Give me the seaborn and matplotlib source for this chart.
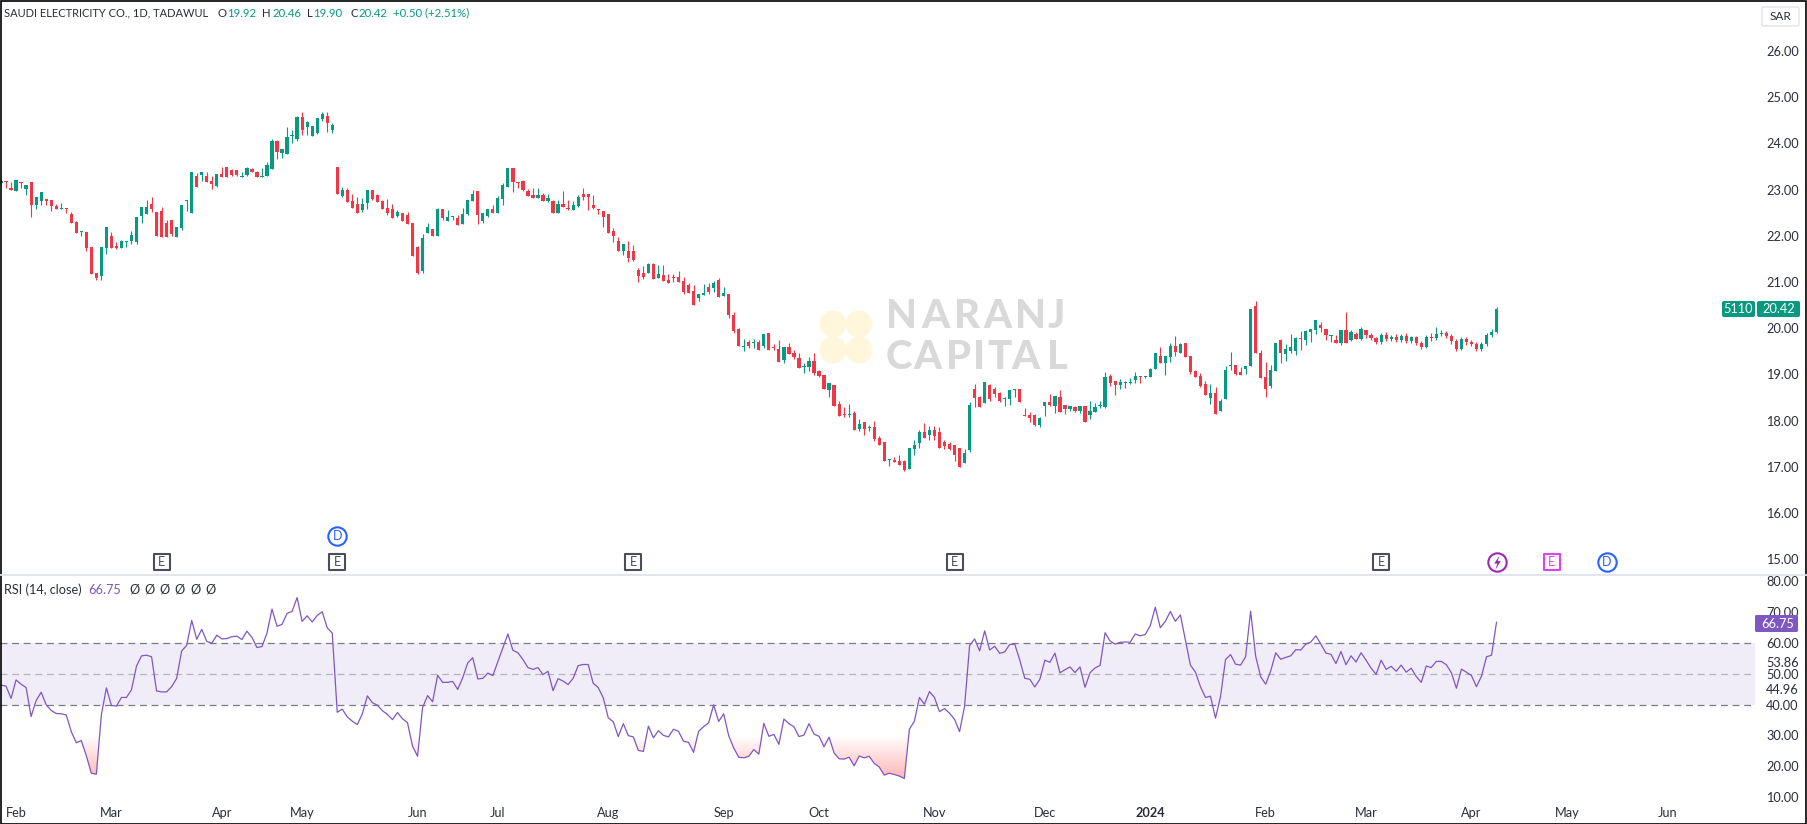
import numpy as np
import pandas as pd
import seaborn as sns
import matplotlib
matplotlib.use("Agg")
import matplotlib.pyplot as plt
from matplotlib.patches import Circle, Rectangle, FancyBboxPatch
from matplotlib.path import Path

opens = [23.14,23.19,23.04,22.97,23.17,23.01,23.17,22.67,22.76,22.80,
22.78,22.65,22.58,22.60,22.48,22.30,22.08,22.08,21.76,21.20,
21.13,21.74,22.00,21.78,21.74,21.87,21.89,21.87,22.43,22.48,
22.69,22.52,22.54,22.28,22.34,21.98,22.17,22.76,22.50,23.30,
23.32,23.30,23.19,23.08,23.34,23.49,23.43,23.43,23.28,23.32,
23.45,23.38,23.28,23.30,23.45,24.05,23.80,23.77,24.16,24.10,
24.57,24.36,24.16,24.23,24.53,24.60,24.29,23.49,22.86,22.99,
22.76,22.69,22.56,22.71,22.99,22.89,22.76,22.60,22.58,22.43,
22.50,22.45,22.28,21.76,21.25,22.06,22.15,22.00,22.58,22.32,
22.41,22.39,22.26,22.47,22.75,22.97,22.32,22.43,22.58,22.50,
22.80,23.06,23.47,23.17,23.19,22.97,22.88,22.82,22.88,22.75,
22.75,22.50,22.69,22.60,22.56,22.65,22.91,22.91,22.67,22.58,
22.54,22.47,22.11,21.89,21.67,21.67,21.67,21.26,21.20,21.20,
21.39,21.09,21.15,21.05,21.11,21.11,21.02,20.94,20.81,20.66,
20.72,20.89,20.87,21.05,20.70,20.74,20.29,19.98,19.60,19.70,
19.68,19.70,19.62,19.90,19.60,19.55,19.31,19.60,19.46,19.36,
19.16,19.16,19.29,19.07,18.99,18.66,18.77,18.36,18.14,18.12,
18.17,17.82,17.97,17.84,17.86,17.63,17.54,17.15,17.15,17.13,
17.13,16.95,17.39,17.52,17.75,17.69,17.80,17.75,17.54,17.50,
17.47,17.41,17.08,17.36,18.69,18.51,18.38,18.77,18.69,18.60,
18.47,18.47,18.66,18.69,18.12,18.12,18.12,17.91,18.32,18.40,
18.32,18.51,18.34,18.25,18.30,18.21,18.32,18.12,18.19,18.32,
18.30,18.97,18.86,18.77,18.82,18.82,18.88,18.97,18.95,18.95,
19.12,19.40,19.25,19.38,19.62,19.47,19.68,19.40,19.07,18.97,
18.79,18.49,18.60,18.21,18.47,19.18,19.20,19.05,19.12,19.18,
20.48,19.47,18.95,18.75,19.08,19.75,19.44,19.51,19.51,19.79,
19.75,19.92,19.96,20.07,19.98,19.83,19.75,19.68,19.96,19.75,
19.88,19.77,19.96,
19.85,19.78,19.70,19.86,19.76,19.82,19.74,19.84,19.72,19.80,
19.68,19.60,19.82,19.78,19.88,19.90,19.84,19.72,19.55,19.76,
19.70,19.66,19.54,19.66,19.86,19.92]

highs = [23.21,23.19,23.17,23.21,23.17,23.10,23.17,22.84,22.95,22.80,
22.78,22.69,22.71,22.60,22.52,22.32,22.11,22.08,21.76,21.20,
21.76,22.19,22.08,21.87,21.91,21.89,22.11,22.41,22.63,22.78,
22.84,22.52,22.63,22.34,22.34,22.19,22.67,22.78,23.38,23.36,
23.38,23.38,23.30,23.34,23.49,23.49,23.45,23.43,23.38,23.49,
23.47,23.41,23.47,23.60,24.10,24.08,23.88,24.36,24.29,24.60,
24.68,24.49,24.38,24.55,24.68,24.68,24.44,23.49,23.06,23.04,
22.91,22.84,22.82,22.99,22.99,22.91,22.78,22.80,22.69,22.56,
22.50,22.52,22.28,21.78,22.04,22.28,22.15,22.60,22.58,22.56,
22.43,22.45,22.60,22.78,22.99,22.97,22.50,22.58,22.67,22.86,
23.14,23.47,23.47,23.17,23.21,23.01,23.04,23.04,22.93,22.91,
22.78,22.78,22.97,22.78,22.75,22.88,23.04,22.91,22.88,22.58,
22.54,22.47,22.17,21.98,21.82,21.89,21.80,21.31,21.35,21.41,
21.41,21.37,21.37,21.17,21.17,21.24,21.11,20.98,20.94,20.74,
20.96,20.98,21.02,21.09,20.89,20.74,20.35,20.01,19.77,19.75,
19.77,19.75,19.88,19.90,19.66,19.75,19.60,19.68,19.53,19.46,
19.25,19.38,19.46,19.10,18.99,18.82,18.77,18.43,18.30,18.36,
18.21,18.04,17.97,17.91,17.99,17.67,17.54,17.17,17.21,17.26,
17.15,17.41,17.58,17.80,17.95,17.88,17.88,17.86,17.58,17.54,
17.47,17.41,17.39,18.40,18.79,18.53,18.84,18.79,18.73,18.62,
18.51,18.66,18.69,18.69,18.27,18.19,18.14,18.08,18.40,18.58,
18.53,18.66,18.34,18.32,18.32,18.32,18.32,18.43,18.38,18.43,
19.05,19.01,18.86,18.90,18.86,18.92,19.05,18.97,18.97,19.14,
19.47,19.60,19.40,19.68,19.83,19.68,19.68,19.40,19.10,19.03,
18.86,18.79,18.73,18.47,19.18,19.49,19.20,19.16,19.18,20.42,
20.59,19.53,19.27,19.20,19.68,19.77,19.66,19.88,19.81,19.94,
19.96,19.98,20.18,20.14,19.98,19.85,19.85,19.96,20.35,19.96,
19.92,20.03,19.96,
19.90,19.82,19.90,19.92,19.86,19.88,19.88,19.90,19.84,19.84,
19.72,19.86,19.90,20.02,19.96,19.94,19.88,19.76,19.80,19.82,
19.74,19.70,19.70,19.90,19.98,20.46]

lows = [23.12,23.04,22.99,22.97,23.04,22.89,22.41,22.58,22.67,22.67,
22.54,22.58,22.58,22.50,22.28,22.06,22.00,21.67,21.17,21.05,
21.05,21.60,21.74,21.72,21.74,21.76,21.83,21.83,22.28,22.48,
22.52,22.00,21.98,21.98,22.00,21.98,22.13,22.54,22.50,23.06,
23.19,23.17,23.01,23.06,23.28,23.28,23.30,23.30,23.28,23.30,
23.38,23.28,23.28,23.30,23.45,23.67,23.69,23.77,24.01,24.05,
24.18,24.18,24.16,24.21,24.49,24.25,24.23,22.91,22.84,22.73,
22.60,22.50,22.52,22.58,22.78,22.73,22.58,22.45,22.39,22.41,
22.32,22.26,21.56,21.18,21.20,22.06,22.00,22.00,22.34,22.32,
22.34,22.24,22.26,22.45,22.75,22.26,22.28,22.41,22.50,22.50,
22.67,23.06,22.95,23.04,22.97,22.86,22.82,22.82,22.75,22.73,
22.50,22.50,22.63,22.56,22.56,22.63,22.78,22.56,22.58,22.47,
22.19,22.06,21.87,21.67,21.59,21.43,21.46,21.00,21.07,21.20,
21.07,21.09,21.02,20.98,21.00,21.00,20.74,20.76,20.50,20.59,
20.72,20.74,20.79,20.68,20.70,20.22,19.90,19.62,19.51,19.57,
19.57,19.53,19.57,19.53,19.53,19.27,19.25,19.44,19.33,19.14,
19.03,19.07,18.99,18.95,18.69,18.51,18.32,18.10,18.08,18.08,
17.80,17.77,17.69,17.77,17.56,17.47,17.13,17.02,17.11,17.04,
16.91,16.95,17.26,17.41,17.63,17.58,17.58,17.41,17.39,17.36,
17.13,16.99,17.08,17.32,18.30,18.30,18.38,18.43,18.51,18.40,
18.32,18.34,18.51,18.40,18.10,17.97,17.88,17.86,18.10,18.32,
18.17,18.19,18.14,18.21,18.19,18.17,17.97,18.04,18.19,18.27,
18.27,18.75,18.56,18.69,18.71,18.79,18.82,18.82,18.92,18.95,
19.12,19.25,18.99,19.27,19.40,19.47,19.38,19.01,18.95,18.73,
18.56,18.36,18.14,18.21,18.47,19.10,18.99,18.99,19.01,19.18,
19.47,18.92,18.51,18.71,19.08,19.25,19.29,19.47,19.42,19.53,
19.64,19.70,19.88,19.92,19.75,19.70,19.68,19.64,19.68,19.72,
19.77,19.75,19.79,
19.74,19.66,19.66,19.72,19.72,19.70,19.70,19.68,19.68,19.64,
19.56,19.58,19.72,19.74,19.84,19.78,19.66,19.50,19.52,19.64,
19.62,19.50,19.50,19.62,19.82,19.90]

closes = [23.19,23.17,22.99,23.21,23.15,23.10,22.67,22.84,22.95,22.76,
22.65,22.58,22.60,22.58,22.28,22.06,22.11,21.74,21.17,21.08,
21.76,22.19,21.74,21.74,21.89,21.89,22.02,22.41,22.63,22.63,
22.58,22.00,21.98,21.98,22.04,22.19,22.67,22.78,23.38,23.06,
23.38,23.17,23.12,23.34,23.28,23.28,23.32,23.32,23.30,23.47,
23.38,23.28,23.30,23.54,24.05,23.82,23.88,24.14,24.18,24.57,
24.29,24.47,24.38,24.55,24.64,24.44,24.40,22.91,22.99,22.73,
22.60,22.50,22.69,22.99,22.80,22.73,22.58,22.50,22.39,22.52,
22.32,22.26,21.56,21.20,21.96,22.19,22.00,22.58,22.39,22.41,
22.43,22.24,22.47,22.78,22.91,22.45,22.50,22.58,22.50,22.82,
23.10,23.47,23.17,23.14,22.99,22.86,22.82,22.88,22.75,22.82,
22.50,22.69,22.63,22.58,22.67,22.84,22.84,22.84,22.60,22.56,
22.41,22.06,22.00,21.67,21.82,21.52,21.48,21.13,21.11,21.39,
21.07,21.17,21.02,20.98,21.09,21.00,20.79,20.76,20.50,20.74,
20.76,20.79,20.98,20.68,20.76,20.29,19.94,19.62,19.62,19.62,
19.70,19.53,19.88,19.53,19.57,19.27,19.60,19.44,19.38,19.14,
19.18,19.29,19.03,18.97,18.69,18.82,18.32,18.10,18.12,18.14,
17.80,17.93,17.82,17.86,17.60,17.47,17.13,17.17,17.11,17.04,
16.93,17.41,17.47,17.75,17.63,17.80,17.67,17.41,17.45,17.39,
17.26,16.99,17.30,18.34,18.49,18.30,18.84,18.47,18.58,18.43,
18.49,18.66,18.69,18.40,18.10,18.06,17.91,18.06,18.40,18.34,
18.53,18.19,18.25,18.32,18.21,18.32,17.97,18.21,18.30,18.34,
18.95,18.82,18.77,18.84,18.84,18.84,18.97,18.95,18.97,19.12,
19.47,19.25,19.40,19.62,19.49,19.66,19.38,19.05,18.95,18.75,
18.56,18.60,18.14,18.43,19.10,19.20,19.01,18.99,19.18,20.42,
19.47,18.92,18.69,19.10,19.68,19.47,19.55,19.59,19.79,19.77,
19.94,19.98,20.18,20.01,19.85,19.85,19.68,19.96,19.68,19.92,
19.77,19.98,19.85,
19.78,19.70,19.86,19.76,19.82,19.74,19.84,19.72,19.80,19.68,
19.60,19.82,19.78,19.88,19.90,19.84,19.72,19.55,19.76,19.70,
19.66,19.54,19.66,19.86,19.92,20.42]

rsi_values = [46.3,46.0,42.0,48.0,46.6,45.5,36.1,41.3,44.0,39.9,38.1,37.1,37.0,36.6,31.2,27.6,28.3,23.4,17.7,17.4,
36.7,45.4,39.7,39.5,42.3,42.3,44.8,52.5,55.8,56.0,55.5,44.4,44.1,44.1,45.8,48.5,57.4,59.2,67.3,61.2,
64.4,60.5,59.9,62.5,61.3,61.4,62.0,62.2,61.1,63.8,61.8,58.5,58.8,63.2,71.0,65.4,66.0,69.6,70.2,74.7,
67.0,68.8,66.8,68.9,70.1,64.9,63.2,37.5,38.5,36.0,34.6,33.5,37.0,42.8,40.6,39.8,38.0,36.8,35.1,37.4,
35.4,34.1,26.5,23.2,39.0,42.9,40.9,49.5,47.2,47.2,47.5,44.9,48.7,53.5,55.2,48.3,48.5,50.2,49.4,53.9,
58.3,62.9,57.6,56.8,
54.6,52.0,51.4,52.0,49.7,50.8,44.5,48.4,47.6,46.5,48.5,52.6,53.0,53.0,46.9,45.5,42.2,35.7,34.4,29.6,
33.8,29.9,29.5,25.1,24.8,33.0,29.2,31.5,30.0,29.5,32.0,31.3,28.1,27.7,24.5,31.3,32.8,34.1,39.9,34.5,
37.0,29.9,25.9,22.9,22.7,23.2,25.4,23.9,33.9,29.7,30.3,27.1,35.3,33.8,32.8,29.6,30.1,33.8,30.4,29.7,
26.3,29.4,24.3,22.4,22.3,22.9,20.1,23.3,22.7,23.2,20.9,19.7,17.1,17.7,17.3,16.8,16.0,32.0,34.6,42.3,
40.1,44.2,42.3,37.7,38.7,37.2,35.2,31.2,39.4,59.1,61.3,57.4,63.9,57.7,58.9,56.6,57.1,59.5,59.6,54.4,
48.5,48.2,45.7,48.2,
54.4,53.7,56.7,50.3,51.3,52.2,50.4,52.2,45.6,50.3,51.9,52.7,63.3,60.6,59.6,60.2,60.3,60.2,62.9,62.3,
62.7,65.6,71.6,64.9,67.0,70.2,67.0,69.1,60.9,52.8,50.5,45.8,42.3,42.7,35.6,42.6,54.6,56.2,53.1,52.8,
55.5,70.3,55.7,49.0,46.6,50.9,56.8,54.7,55.3,55.8,57.8,57.7,59.6,60.3,62.3,59.6,56.7,56.3,53.3,57.2,
52.9,55.8,53.8,56.8,54.4,51.8,49.8,54.4,51.4,52.4,50.8,52.8,50.5,51.8,49.1,47.2,52.5,52.0,54.0,54.0,
52.9,50.3,45.3,51.5,50.5,49.4,45.8,49.2,55.5,56.0,66.75]

price_ticks = list(range(15, 27))
rsi_ticks = [80, 70, 60, 53.86, 50, 44.96, 40, 30, 20, 10]
month_labels = ["Feb","Mar","Apr","May","Jun","Jul","Aug","Sep","Oct","Nov","Dec","2024","Feb","Mar","Apr","May","Jun"]
month_bars = [3,22,44,60,83,99,121,144,163,186,208,229,252,272,293,312,332]
event_labels = ["E","E","E","E","E","E","D"]
event_bars = [32,67,126,190,275,309,320]
event_colors = ["#4a4e5a","#4a4e5a","#4a4e5a","#4a4e5a","#4a4e5a","#E040FB","#2962FF"]

GREEN, RED, PURPLE, INK = "#089981", "#F23645", "#7E57C2", "#2a2e39"
W, H = 1807, 824
sns.set_theme(style="white")
plt.rcParams["font.family"] = ["Lato", "DejaVu Sans"]
plt.rcParams["axes.unicode_minus"] = False
fig = plt.figure(figsize=(W/100, H/100), dpi=100, facecolor="white")

under = fig.add_axes([0, 0, 1, 1], zorder=0)
under.set_xlim(0, W); under.set_ylim(H, 0); under.axis("off")
main = fig.add_axes([0, 1-574/H, 1755/W, 574/H], zorder=2, facecolor="none")
low = fig.add_axes([0, 1-797/H, 1755/W, (797-575)/H], zorder=2, facecolor="none")
top = fig.add_axes([0, 0, 1, 1], zorder=5, facecolor="none")
top.set_xlim(0, W); top.set_ylim(H, 0); top.axis("off")

xlim = (-0.2, 349.5)
main.set_xlim(*xlim); low.set_xlim(*xlim)
main.set_ylim(14.68, 27.106)
low_ylim = (10-(797-798)/3.1, 60+(643.3-575)/3.1)
low.set_ylim(*low_ylim)

# watermark
for dx, dy in [(-13,-13),(13,-13),(-13,13),(13,13)]:
    under.add_patch(Circle((846+dx, 337+dy), 13.5, fc="#FFF6DC", ec="none"))
for letters, centers, yc in [("NARANJ", [65,165,262,352,451,530], 316), ("CAPITAL", [57,142,237,297,360,437,532], 357)]:
    for ch, c in zip(letters, centers):
        under.text(880+c/3, yc, ch, ha="center", va="center", fontsize=29, fontweight=900, color="#D9D9D9")

# candles
o, h, l, c = map(np.array, (opens, highs, lows, closes))
x = np.arange(len(o))
cols = np.where(c >= o, GREEN, RED)
main.vlines(x, l, h, colors=cols, lw=0.8)
main.bar(x, np.maximum(np.abs(c-o), 0.025), bottom=np.minimum(o, c), width=0.64, color=cols, lw=0)

# RSI
r = np.array(rsi_values)
xr = np.arange(len(r)) + (len(o)-len(r))
low.axhspan(40, 60, color=PURPLE, alpha=0.1, lw=0)
low.axhline(60, color="#787B86", lw=0.9, dashes=(5.5, 3.8))
low.axhline(40, color="#787B86", lw=0.9, dashes=(5.5, 3.8))
low.axhline(50, color="#787B86", lw=0.9, dashes=(5.5, 3.8), alpha=0.5)
fb = low.fill_between(xr, r, 30, where=r < 30, interpolate=True, facecolor="none", lw=0)
clip = Path.make_compound_path(*fb.get_paths())
grad = np.zeros((100, 1, 4))
grad[..., :3] = (1.0, 0.32, 0.32)
grad[..., 3] = np.linspace(0.55, 0.0, 100)[:, None]
img = low.imshow(grad, extent=(xlim[0], xlim[1], 12, 30), origin="lower", aspect="auto", zorder=1, interpolation="bilinear")
img.set_clip_path(clip, transform=low.transData)
low.set_xlim(*xlim); low.set_ylim(*low_ylim)
sns.lineplot(x=xr, y=r, ax=low, color=PURPLE, lw=0.9, zorder=3, errorbar=None)

# axes
for ax in (main, low):
    for s in ax.spines.values():
        s.set_visible(False)
    ax.yaxis.tick_right()
    ax.tick_params(axis="y", length=0, pad=8, labelsize=9.2, labelcolor=INK)
    ax.grid(False)
    ax.set_xlabel(""); ax.set_ylabel("")
main.set_yticks(price_ticks, [f"{v:.2f}" for v in price_ticks])
low.set_yticks(rsi_ticks, [f"{v:.2f}" for v in rsi_ticks])
main.set_xticks([])
low.set_xticks(month_bars, month_labels)
low.tick_params(axis="x", length=0, pad=7, labelsize=9.2, labelcolor=INK)
low.get_xticklabels()[11].set_fontweight("bold")

# events
for lab, b, col in zip(event_labels, event_bars, event_colors):
    if lab == "D":
        main.scatter([b], [14.95], marker="o", s=175, fc="white", ec=col, lw=1.5, zorder=4)
    else:
        main.scatter([b], [14.95], marker="s", s=135, fc="white", ec=col, lw=1.5, zorder=4)
    main.text(b, 14.95, lab, ha="center", va="center", fontsize=9, color=col, zorder=5)
main.scatter([67], [15.5], marker="o", s=175, fc="white", ec="#2962FF", lw=1.5, zorder=4)
main.text(67, 15.5, "D", ha="center", va="center", fontsize=9, color="#2962FF", zorder=5)
main.scatter([298], [14.95], marker="o", s=175, fc="white", ec="#9C27B0", lw=1.5, zorder=4)
bolt = Path([(0.3,1),(-0.45,-0.15),(-0.02,-0.15),(-0.3,-1),(0.45,0.2),(0.02,0.2),(0.3,1)], closed=True)
main.scatter([298], [14.95], marker=bolt, s=110, c="#9C27B0", lw=0, zorder=5)

# header
HF = 9.2
top.text(4, 13, "SAUDI ELECTRICITY CO., 1D, TADAWUL", ha="left", va="center", fontsize=8.0, color=INK)
for px, txt, col in [(218,"O",INK),(227,"19.92",GREEN),(262,"H",INK),(272,"20.46",GREEN),
                     (307,"L",INK),(313,"19.90",GREEN),(351,"C",INK),(358,"20.42",GREEN),(393,"+0.50 (+2.51%)",GREEN)]:
    top.text(px, 13, txt, ha="left", va="center", fontsize=8.2, color=col)
top.text(4, 590, "RSI (14, close)", ha="left", va="center", fontsize=HF, color=INK)
top.text(88, 590, "66.75", ha="left", va="center", fontsize=HF, color=PURPLE)
for px in [129,144,159,174,190,205]:
    top.text(px, 590, "\u00D8", ha="left", va="center", fontsize=HF, color=INK)

# price tags
top.add_patch(FancyBboxPatch((1762, 7), 37, 19, boxstyle="round,pad=0,rounding_size=2", fc="white", ec="#E0E3EB", lw=1))
top.text(1780.5, 16.5, "SAR", ha="center", va="center", fontsize=8.6, color=INK)
top.add_patch(FancyBboxPatch((1722, 301), 33, 16, boxstyle="round,pad=0,rounding_size=2", fc=GREEN, ec="none"))
top.add_patch(FancyBboxPatch((1757, 301), 43, 16, boxstyle="round,pad=0,rounding_size=2", fc=GREEN, ec="none"))
top.text(1738.5, 309, "5110", ha="center", va="center", fontsize=9.2, color="white")
top.text(1778.5, 309, "20.42", ha="center", va="center", fontsize=9.2, color="white")
top.add_patch(FancyBboxPatch((1755, 615), 43, 17, boxstyle="round,pad=0,rounding_size=1.5", fc=PURPLE, ec="none"))
top.text(1777.5, 623.5, "66.75", ha="center", va="center", fontsize=9.2, color="white")

# frame
top.plot([0, W], [574.5, 574.5], color="#E0E3EB", lw=1.3)
top.add_patch(Rectangle((0.5, 0.5), W-1, H-1, fc="none", ec="black", lw=1.2))

fig.savefig("out.png", dpi=100)
